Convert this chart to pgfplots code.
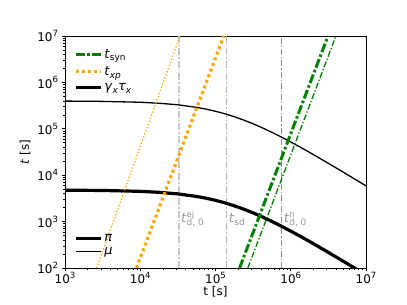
\documentclass[border=0pt]{standalone}
\usepackage{pgfplots}
\pgfplotsset{compat=1.18}
\usepackage{fontspec}
\setmainfont{DejaVu Sans}
\definecolor{mplgreen}{HTML}{008000}
\definecolor{mplorange}{HTML}{FFA500}
\definecolor{vlight}{HTML}{C8C8C8}
\definecolor{vmid}{HTML}{B4B4B4}
\definecolor{vdark}{HTML}{8C8C8C}
\definecolor{lblgray}{HTML}{969696}
\newcommand{\su}[1]{\raisebox{0.42em}{\fontsize{8.6}{9}\selectfont #1}}
\newcommand{\sub}[1]{\raisebox{-0.22em}{\fontsize{9}{9}\selectfont #1}}
\newcommand{\fs}{\fontsize{12}{14}\selectfont}
\newcommand{\fl}{\fontsize{13}{15}\selectfont}
\begin{document}
\begin{tikzpicture}
\begin{axis}[name=ax, scale only axis, width=301bp, height=232bp,
 xmode=log, ymode=log, xmin=1e3, xmax=1e7, ymin=1e2, ymax=1e7,
 xtick={1e3,1e4,1e5,1e6,1e7},
 xticklabels={10\su{3},10\su{4},10\su{5},10\su{6},10\su{7}},
 ytick={1e2,1e3,1e4,1e5,1e6,1e7},
 yticklabels={10\su{2},10\su{3},10\su{4},10\su{5},10\su{6},10\su{7}},
 minor xtick={2e3,3e3,4e3,5e3,6e3,7e3,8e3,9e3,2e4,3e4,4e4,5e4,6e4,7e4,8e4,9e4,2e5,3e5,4e5,5e5,6e5,7e5,8e5,9e5,2e6,3e6,4e6,5e6,6e6,7e6,8e6,9e6},
 minor ytick={2e2,3e2,4e2,5e2,6e2,7e2,8e2,9e2,2e3,3e3,4e3,5e3,6e3,7e3,8e3,9e3,2e4,3e4,4e4,5e4,6e4,7e4,8e4,9e4,2e5,3e5,4e5,5e5,6e5,7e5,8e5,9e5,2e6,3e6,4e6,5e6,6e6,7e6,8e6,9e6},
 tick pos=left, tick align=outside, major tick length=3.5bp, minor tick length=2bp,
 every tick/.style={black, line width=0.6bp},
 axis line style={line width=0.8bp, black},
 tick label style={font=\fs},
 xticklabel style={yshift=2.5bp},
 label style={font=\fs},
 xlabel style={yshift=4bp},
 xlabel={t [s]}, ylabel={\textit{t} [s]},
 legend style={at={(0.02,0.962)}, anchor=north west, draw=none, fill=none, font=\fl, row sep=2.5bp},
 legend cell align=left,
 legend image code/.code={\draw[#1] (0bp,0bp) -- (25bp,0bp);},
]
\addlegendimage{mplgreen, line width=3bp, dash pattern=on 9bp off 2.5bp on 2.5bp off 2.5bp}
\addlegendentry{\textit{t}\sub{syn}}
\addlegendimage{mplorange, line width=3.2bp, dash pattern=on 3bp off 3bp}
\addlegendentry{\textit{t}\sub{\textit{xp}}}
\addlegendimage{black, line width=3.2bp}
\addlegendentry{\textit{γ}\sub{\textit{x}}\textit{τ}\sub{\textit{x}}}

% vertical reference times
\addplot[vlight, line width=1.6bp, dash pattern=on 7bp off 2bp on 1.5bp off 2bp, forget plot] coordinates {(32734,100) (32734,1e7)};
\addplot[vmid, line width=1.3bp, dash pattern=on 7bp off 2bp on 1.5bp off 2bp, forget plot] coordinates {(140929,100) (140929,1e7)};
\addplot[vdark, line width=0.9bp, dash pattern=on 6bp off 2bp on 1.2bp off 2bp, forget plot] coordinates {(756833,100) (756833,1e7)};

% gamma tau, pi (thick)
\addplot[black, line width=3.2bp, forget plot] coordinates {
(1000,4753) (3162,4688) (10000,4487) (17783,4276) (31623,3954) (56234,3483) (74989,3192)
(100000,2871) (133352,2535) (177828,2188) (237137,1855) (316228,1542) (421697,1256)
(562341,1007) (749894,797.5) (1000000,623.7) (1333521,484) (1778279,372.4) (2371374,284.6)
(3162278,216.8) (4216965,164.4) (5623413,124.5) (7498942,93.9) (10000000,70.8)};
% gamma tau, mu (thin)
\addplot[black, line width=1.3bp, forget plot] coordinates {
(1000,3.954e5) (3162,3.899e5) (10000,3.733e5) (17783,3.556e5) (31623,3.289e5) (56234,2.897e5) (74989,2.655e5)
(100000,2.388e5) (133352,2.108e5) (177828,1.820e5) (237137,1.542e5) (316228,1.282e5) (421697,1.045e5)
(562341,8.38e4) (749894,6.64e4) (1000000,5.19e4) (1333521,4.03e4) (1778279,3.10e4) (2371374,2.366e4)
(3162278,1.803e4) (4216965,1.368e4) (5623413,1.035e4) (7498942,7.81e3) (10000000,5.89e3)};

% t_xp
\addplot[mplorange, line width=1.3bp, dash pattern=on 1.3bp off 2bp, forget plot] coordinates {(2636,100) (33730,1e7)};
\addplot[mplorange, line width=3.2bp, dash pattern=on 3bp off 3bp, forget plot] coordinates {(8913,100) (128825,1e7)};

% t_syn
\addplot[mplgreen, line width=3bp, dash pattern=on 9bp off 2.5bp on 2.5bp off 2.5bp, forget plot] coordinates {(208930,100) (3126079,1e7)};
\addplot[mplgreen, line width=1.3bp, dash pattern=on 6bp off 2bp on 1.3bp off 2bp, forget plot] coordinates {(269153,100) (3981072,1e7)};

\node[anchor=base west, text=lblgray, font=\fl, inner sep=2bp] at (axis cs:32734,933) {\textit{t}\rlap{\su{ej}}\sub{d, 0}};
\node[anchor=base west, text=lblgray, font=\fl, inner sep=2bp] at (axis cs:140929,933) {\textit{t}\sub{sd}};
\node[anchor=base west, text=lblgray, font=\fl, inner sep=2bp] at (axis cs:756833,933) {\textit{t}\rlap{\su{n}}\sub{d, 0}};
\end{axis}
\begin{axis}[at={(ax.south west)}, anchor=south west, scale only axis, width=301bp, height=232bp,
 hide axis, xmin=0, xmax=1, ymin=0, ymax=1,
 legend style={at={(0.02,0.035)}, anchor=south west, draw=none, fill=none, font=\fl, row sep=0bp},
 legend cell align=left,
 legend image code/.code={\draw[#1] (0bp,0bp) -- (25bp,0bp);},
]
\addlegendimage{black, line width=3.2bp}
\addlegendentry{\textit{π}}
\addlegendimage{black, line width=1.3bp}
\addlegendentry{\textit{μ}}
\end{axis}
\path ([shift={(-65bp,-37bp)}]ax.south west) rectangle ([shift={(41bp,36bp)}]ax.north east);
\end{tikzpicture}
\end{document}
